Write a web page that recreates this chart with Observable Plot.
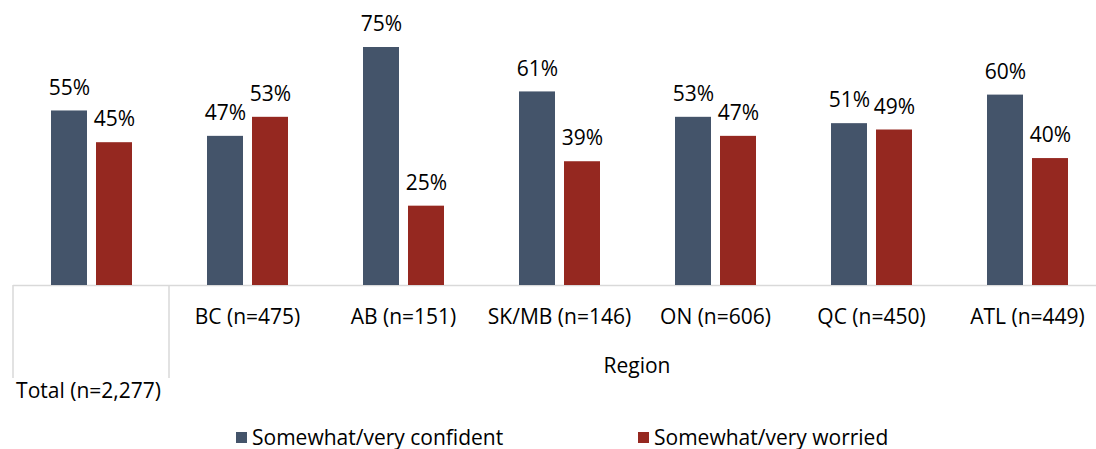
<!DOCTYPE html>
<html><head><meta charset="utf-8">
<script src="https://cdn.jsdelivr.net/npm/d3@7"></script>
<script src="https://cdn.jsdelivr.net/npm/@observablehq/plot@0.6"></script>
<style>
body{margin:0;background:#fff;font-family:"Open Sans",sans-serif;}
#legend{position:relative;width:1096px;height:39px;font-size:21px;color:#000;}
.item{position:absolute;top:15px;display:flex;align-items:center;white-space:nowrap;line-height:24px;}
.sw{width:11px;height:11px;margin-right:5px;}
</style>
</head><body><div id="chart"></div><div id="legend"></div>
<script>
const groups = ["Total (n=2,277)","BC (n=475)","AB (n=151)","SK/MB (n=146)","ON (n=606)","QC (n=450)","ATL (n=449)"];
const series = ["Somewhat/very confident","Somewhat/very worried"];
const confident = [55,47,75,61,53,51,60];
const worried = [45,53,25,39,47,49,40];
const colors = ["#44546a","#952820"];
const regionLabel = "Region";

const data = groups.flatMap((g,i)=>[
  {group:g, series:series[0], value:confident[i]},
  {group:g, series:series[1], value:worried[i]}
]);

const plot = Plot.plot({
  width:1096, height:410, marginTop:47, marginBottom:125, marginLeft:10, marginRight:0,
  style:{fontFamily:'"Open Sans", sans-serif', fontSize:"21px", color:"#000", background:"white"},
  fx:{domain:groups, range:[10,1107.6], padding:0, axis:null, label:null},
  x:{domain:series, range:[43.5,133.5], paddingInner:0.2, paddingOuter:0.1, axis:null, label:null},
  y:{domain:[0,75], axis:null, label:null},
  color:{domain:series, range:colors},
  marks:[
    Plot.ruleY([0], {stroke:"#d9d9d9", strokeWidth:1.5}),
    Plot.barY(data, {fx:"group", x:"series", y:"value", fill:"series"}),
    Plot.text(data, {fx:"group", x:"series", y:"value", text:d=>d.value+"%", dy:-23, fontSize:21, fill:"#000"}),
    Plot.text(groups.slice(1), {fx:d=>d, text:d=>d, frameAnchor:"bottom", dy:38, fontSize:21, fill:"#000"}),
    Plot.text(groups.slice(0,1), {fx:d=>d, text:d=>d, frameAnchor:"bottom", dy:112, dx:-3, fontSize:21, fill:"#000"})
  ]
});
document.getElementById("chart").appendChild(plot);

// separators and region label using the plot's own scales
const fx = plot.scale("fx"), y = plot.scale("y");
const svg = d3.select(plot);
const y0 = y.apply(0);
const bw = fx.bandwidth;
const xs = [fx.apply(groups[0]), fx.apply(groups[1])];
svg.append("g").selectAll("line").data(xs).join("line")
  .attr("x1",d=>d).attr("x2",d=>d).attr("y1",y0).attr("y2",y0+93)
  .attr("stroke","#d9d9d9").attr("stroke-width",1.5);
const rx = (fx.apply(groups[1]) + fx.apply(groups[groups.length-1]) + bw)/2;
svg.append("text").attr("x",rx).attr("y",y0+81).attr("text-anchor","middle")
  .attr("font-size",21).attr("fill","#000").attr("dy","0.32em").text(regionLabel);

// legend
const lg = d3.select("#legend");
const lefts = [236,638];
series.forEach((s,i)=>{
  const it = lg.append("div").attr("class","item").style("left",lefts[i]+"px");
  it.append("div").attr("class","sw").style("background",colors[i]);
  it.append("span").text(s);
});
</script>
</body></html>
